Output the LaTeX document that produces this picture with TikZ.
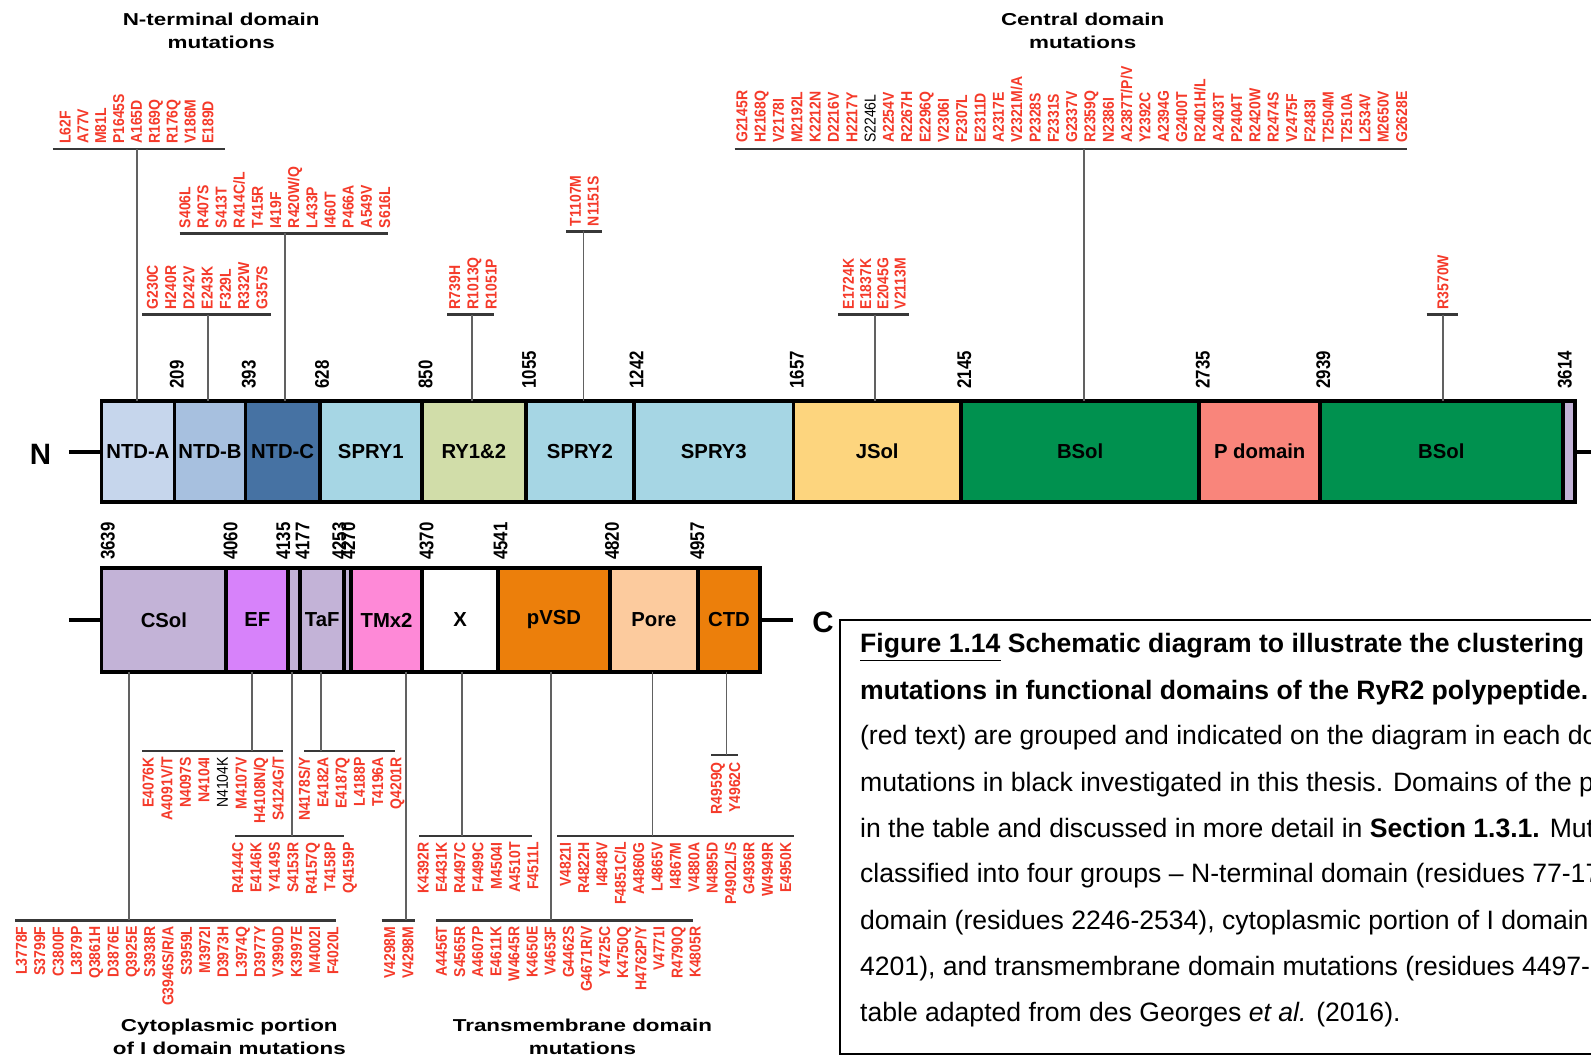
\documentclass[tikz,border=0pt]{standalone}
\usepackage{fontspec}
\setmainfont{Liberation Sans}
\newfontfamily\lblfont[FakeStretch=0.89]{Liberation Sans}
\newfontfamily\numfont[FakeStretch=0.85]{Liberation Sans}
\newfontfamily\ttlfont[FakeStretch=1.3]{Liberation Sans}
\newfontfamily\capfont{Liberation Sans}
\definecolor{cNA}{HTML}{C6D6EC}
\definecolor{cNB}{HTML}{A7C0DF}
\definecolor{cNC}{HTML}{4672A3}
\definecolor{cSP}{HTML}{A6D6E4}
\definecolor{cRY}{HTML}{D1DDA9}
\definecolor{cJS}{HTML}{FDD57E}
\definecolor{cBS}{HTML}{00914F}
\definecolor{cPD}{HTML}{F9857B}
\definecolor{cLV}{HTML}{C3B3D7}
\definecolor{cEF}{HTML}{D782FA}
\definecolor{cTM}{HTML}{FE89D7}
\definecolor{cOR}{HTML}{EC7F0B}
\definecolor{cPO}{HTML}{FCCB9E}
\definecolor{mutred}{HTML}{F53A2A}
\newcommand\blk[1]{\textcolor{black}{\mdseries #1}}
\newcommand\upgroup[5]{\foreach \mut [count=\i from 0] in {#5}{\node[lblup] (#1\i) at ({#2+\i*#3},#4) {\mut};}}
\newcommand\dngroup[5]{\foreach \mut [count=\i from 0] in {#5}{\node[lbldn] (#1\i) at ({#2+\i*#3},#4) {\mut};}}
\begin{document}
\begin{tikzpicture}[x=1pt,y=-1pt,
  dom/.style={draw=black, line width=3.8pt, minimum height=100, inner sep=0pt, outer sep=0pt, anchor=north west, font=\fontsize{20}{24}\selectfont\bfseries},
  lblup/.style={rotate=90, anchor=west, inner sep=0pt, text height=11pt, text depth=0pt, font=\lblfont\fontsize{15.5}{15.5}\selectfont\bfseries, text=mutred},
  lbldn/.style={lblup, anchor=east},
  num/.style={rotate=90, anchor=west, inner sep=0pt, text height=14pt, text depth=0pt, font=\numfont\fontsize{19.5}{20}\selectfont\bfseries},
  brk/.style={line width=2.4pt, draw=black!78},
  stem/.style={line width=1.8pt, draw=black!62},
  ttl/.style={font=\ttlfont\fontsize{17}{23}\selectfont\bfseries, align=center, inner sep=0pt},
  captxt/.style={font=\capfont\fontsize{26.2}{30}\selectfont, anchor=base west, inner sep=0pt},
  term/.style={line width=4pt, draw=black},
  big/.style={font=\fontsize{29}{30}\selectfont\bfseries, inner sep=0pt}]
\useasboundingbox (0,0) rectangle (1568,1043);
\clip (0,0) rectangle (1568,1043);
\fill[white] (0,0) rectangle (1568,1043);

% titles
\node[ttl] (tN) at (218,30.5) {N-terminal domain\\mutations};
\node[ttl] (tC) at (1067,30.5) {Central domain\\mutations};
\node[ttl] (tI) at (226,1022) {Cytoplasmic portion\\of I domain mutations};
\node[ttl] (tT) at (574,1022) {Transmembrane domain\\mutations};

% top bar
\node[dom,fill=cNA,minimum width=72] (ntda) at (100,395) {NTD-A};
\node[dom,fill=cNB,minimum width=70] (ntdb) at (172,395) {NTD-B};
\node[dom,fill=cNC,minimum width=73] (ntdc) at (242,395) {NTD-C};
\node[dom,fill=cSP,minimum width=101] (spry1) at (315,395) {SPRY1};
\node[dom,fill=cRY,minimum width=102] (ry) at (416,395) {RY1\&2};
\node[dom,fill=cSP,minimum width=107] (spry2) at (518,395) {SPRY2};
\node[dom,fill=cSP,minimum width=157] (spry3) at (625,395) {SPRY3};
\node[dom,fill=cJS,minimum width=165] (jsol) at (782,395) {JSol};
\node[dom,fill=cBS,minimum width=235] (bsol1) at (947,395) {BSol};
\node[dom,fill=cPD,minimum width=119] (pdom) at (1182,395) {P domain};
\node[dom,fill=cBS,minimum width=239] (bsol2) at (1301,395) {BSol};
\node[dom,fill=cLV,minimum width=12] (tstrip) at (1540,395) {};
\node[big] (N) at (40,448) {N};
\coordinate (nL) at (68,445);
\coordinate (nR) at (1575,445);
\draw[term] (nL) -- (ntda.west);
\draw[term] (tstrip.east) -- (nR);

% top numbers
\foreach \x/\n in {174/209,245/393,317/628,419/850,521/1055,627/1242,785/1657,950/2145,1185/2735,1304/2939,1542/3614}
  {\node[num] (n\n) at (\x,383) {\n};}

% bottom bar
\node[dom,fill=cLV,minimum width=123,minimum height=102] (csol) at (100,560) {CSol};
\node[dom,fill=cEF,minimum width=61,minimum height=102] (ef) at (223,560) {EF};
\node[dom,fill=cLV,minimum width=12,minimum height=102] (bs1) at (284,560) {};
\node[dom,fill=cLV,minimum width=43,minimum height=102] (taf) at (296,560) {TaF};
\node[dom,fill=cLV,minimum width=7,minimum height=102] (bs2) at (339,560) {};
\node[dom,fill=cTM,minimum width=70,minimum height=102] (tmx) at (346,560) {TMx2};
\node[dom,fill=white,minimum width=75,minimum height=102] (xd) at (416,560) {X};
\node[dom,fill=cOR,minimum width=110,minimum height=102] (pvsd) at (491,560) {pVSD};
\node[dom,fill=cPO,minimum width=87,minimum height=102] (pore) at (601,560) {Pore};
\node[dom,fill=cOR,minimum width=61,minimum height=102] (ctd) at (688,560) {CTD};
\node[big] (C) at (811,613) {C};
\coordinate (cL) at (68,611);
\coordinate (cR) at (782,611);
\draw[term] (cL) -- (csol.west);
\draw[term] (ctd.east) -- (cR);

% bottom numbers
\foreach \x/\n in {106/3639,227/4060,279/4135,298/4177,334/4253,343/4270,420/4370,493/4541,603/4820,687/4957}
  {\node[num] (n\n) at (\x,552) {\n};}

% ---- top groups ----
% G1 NTD-A
\coordinate (g1L) at (52,147); \coordinate (g1R) at (222,147); \coordinate (g1s) at (135,147);
\draw[brk] (g1L) -- (g1R); \draw[stem] (g1s) -- (g1s |- ntda.north);
\upgroup{ga}{64}{17.6}{142}{L62F,A77V,M81L,P1645S,A165D,R169Q,R176Q,V186M,E189D}
% G2 NTD-B
\coordinate (g2L) at (140,310); \coordinate (g2R) at (267,310); \coordinate (g2s) at (205,310);
\draw[brk] (g2L) -- (g2R); \draw[stem] (g2s) -- (g2s |- ntdb.north);
\upgroup{gb}{150}{18}{305}{G230C,H240R,D242V,E243K,F329L,R332W,G357S}
% G3 NTD-C
\coordinate (g3L) at (177,230); \coordinate (g3R) at (382,230); \coordinate (g3s) at (281,230);
\draw[brk] (g3L) -- (g3R); \draw[stem] (g3s) -- (g3s |- ntdc.north);
\upgroup{gc}{182}{17.9}{225}{S406L,R407S,S413T,{R414C/L},T415R,I419F,{R420W/Q},L433P,I460T,P466A,A549V,S616L}
% G4 RY1&2
\coordinate (g4L) at (441,310); \coordinate (g4R) at (487,310); \coordinate (g4s) at (465,310);
\draw[brk] (g4L) -- (g4R); \draw[stem] (g4s) -- (g4s |- ry.north);
\upgroup{gd}{448}{18}{305}{R739H,R1013Q,R1051P}
% G5 SPRY2
\coordinate (g5L) at (558,228); \coordinate (g5R) at (593,228); \coordinate (g5s) at (575,228);
\draw[brk] (g5L) -- (g5R); \draw[stem] (g5s) -- (g5s |- spry2.north);
\upgroup{ge}{567}{17.5}{223}{T1107M,N1151S}
% G6 JSol
\coordinate (g6L) at (826,310); \coordinate (g6R) at (896,310); \coordinate (g6s) at (862,310);
\draw[brk] (g6L) -- (g6R); \draw[stem] (g6s) -- (g6s |- jsol.north);
\upgroup{gf}{836}{17}{305}{E1724K,E1837K,E2045G,V2113M}
% G7 central
\coordinate (g7L) at (724,147); \coordinate (g7R) at (1387,147); \coordinate (g7s) at (1068,147);
\draw[brk] (g7L) -- (g7R); \draw[stem] (g7s) -- (g7s |- bsol1.north);
\upgroup{gg}{731}{18.06}{141}{G2145R,H2168Q,V2178I,M2192L,K2212N,D2216V,H2217Y,\blk{S2246L},A2254V,R2267H,E2296Q,V2306I,F2307L,E2311D,A2317E,{V2321M/A},P2328S,F2331S,G2337V,R2359Q,N2386I,{A2387T/P/V},Y2392C,A2394G,G2400T,{R2401H/L},A2403T,P2404T,R2420W,R2474S,V2475F,F2483I,T2504M,T2510A,L2534V,M2650V,G2628E}
% G8 BSol
\coordinate (g8L) at (1406,310); \coordinate (g8R) at (1437,310); \coordinate (g8s) at (1422,310);
\draw[brk] (g8L) -- (g8R); \draw[stem] (g8s) -- (g8s |- bsol2.north);
\upgroup{gh}{1422}{18}{305}{R3570W}

% ---- bottom groups ----
% CSol
\coordinate (hAL) at (15,907); \coordinate (hAR) at (331,907); \coordinate (hAs) at (127,907);
\draw[brk] (hAL) -- (hAR); \draw[stem] (hAs |- csol.south) -- (hAs);
\dngroup{ha}{21}{18.06}{913}{L3778F,S3799F,C3800F,L3879P,Q3861H,D3876E,Q3925E,S3938R,{G3946S/R/A},S3959L,M3972I,D3973H,L3974Q,D3977Y,V3990D,K3997E,M4002I,F4020L}
% EF
\coordinate (hBL) at (140,740); \coordinate (hBR) at (279,740); \coordinate (hBs) at (248,740);
\draw[brk] (hBL) -- (hBR); \draw[stem] (hBs |- ef.south) -- (hBs);
\dngroup{hb}{146}{18.3}{746}{E4076K,{A4091V/T},N4097S,N4104I,\blk{N4104K},M4107V,{H4108N/Q},{S4124G/T}}
% strip
\coordinate (hCL) at (232,824); \coordinate (hCR) at (339,824); \coordinate (hCs) at (288,824);
\draw[brk] (hCL) -- (hCR); \draw[stem] (hCs |- bs1.south) -- (hCs);
\dngroup{hc}{234}{18.2}{830}{R4144C,E4146K,Y4149S,S4153R,R4157Q,T4158P,Q4159P}
% TaF
\coordinate (hDL) at (300,740); \coordinate (hDR) at (389,740); \coordinate (hDs) at (316,740);
\draw[brk] (hDL) -- (hDR); \draw[stem] (hDs |- taf.south) -- (hDs);
\dngroup{hd}{300}{18}{746}{{N4178S/Y},E4182A,E4187Q,L4188P,T4196A,Q4201R}
% TMx2
\coordinate (hEL) at (376,907); \coordinate (hER) at (409,907); \coordinate (hEs) at (400,907);
\draw[brk] (hEL) -- (hER); \draw[stem] (hEs |- tmx.south) -- (hEs);
\dngroup{he}{384}{18}{913}{V4298M,V4298M}
% X
\coordinate (hFL) at (413,824); \coordinate (hFR) at (524,824); \coordinate (hFs) at (455,824);
\draw[brk] (hFL) -- (hFR); \draw[stem] (hFs |- xd.south) -- (hFs);
\dngroup{hf}{417}{18}{830}{K4392R,E4431K,R4497C,F4499C,M4504I,A4510T,F4511L}
% pVSD
\coordinate (hGL) at (430,907); \coordinate (hGR) at (683,907); \coordinate (hGs) at (543,907);
\draw[brk] (hGL) -- (hGR); \draw[stem] (hGs |- pvsd.south) -- (hGs);
\dngroup{hg}{435}{17.86}{913}{A4456T,S4565R,A4607P,E4611K,W4645R,K4650E,V4653F,G4462S,{G4671R/V},Y4725C,K4750Q,{H4762P/Y},V4771I,R4790Q,K4805R}
% Pore
\coordinate (hHL) at (549,824); \coordinate (hHR) at (783,824); \coordinate (hHs) at (643,824);
\draw[brk] (hHL) -- (hHR); \draw[stem] (hHs |- pore.south) -- (hHs);
\dngroup{hh}{557}{18.1}{830}{V4821I,R4822H,I4848V,{F4851C/L},A4860G,L4865V,I4867M,V4880A,N4895D,{P4902L/S},G4936R,W4949R,E4950K}
% CTD
\coordinate (hIL) at (701,744); \coordinate (hIR) at (727,744); \coordinate (hIs) at (716,744);
\draw[brk] (hIL) -- (hIR); \draw[stem] (hIs |- ctd.south) -- (hIs);
\dngroup{hi}{706}{18}{751}{R4959Q,Y4962C}

% caption
\node[draw=black, line width=1.6pt, anchor=north west, minimum width=800, minimum height=428, inner sep=0pt] (capbox) at (827,610) {};
\node[captxt] (c1) at (847.5,643.5) {\bfseries\underline{Figure 1.14} Schematic diagram to illustrate the clustering};
\node[captxt] (c2) at (847.5,689) {\bfseries mutations in functional domains of the RyR2 polypeptide.};
\node[captxt] (c3) at (847.5,734) {(red text) are grouped and indicated on the diagram in each do};
\node[captxt] (c4) at (847.5,780) {mutations in black investigated in this thesis. Domains of the p};
\node[captxt] (c5) at (847.5,825) {in the table and discussed in more detail in \textbf{Section 1.3.1.} Mut};
\node[captxt] (c6) at (847.5,870) {classified into four groups – N-terminal domain (residues 77-17};
\node[captxt] (c7) at (847.5,916) {domain (residues 2246-2534), cytoplasmic portion of I domain};
\node[captxt] (c8) at (847.5,961) {4201), and transmembrane domain mutations (residues 4497-};
\node[captxt] (c9) at (847.5,1007) {table adapted from des Georges \textit{et al.} (2016).};
\end{tikzpicture}
\end{document}
